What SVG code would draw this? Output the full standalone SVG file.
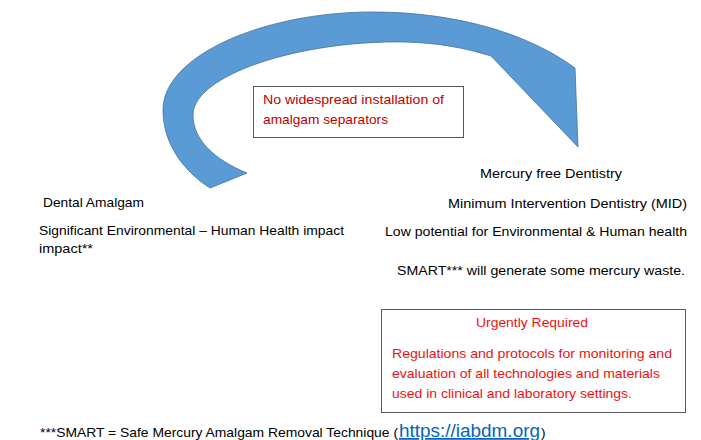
<svg xmlns="http://www.w3.org/2000/svg" width="701" height="440" viewBox="0 0 701 440">
<style>
.t{font-family:"Liberation Sans",Arial,sans-serif;font-size:13.5px;fill:#000}
.r1{fill:#c00000}
.r2{fill:#ee1111}
.box{fill:#fff;stroke:#595959;stroke-width:1}
.arrow{fill:#5b9bd5;stroke:#41719c;stroke-width:0.8}
.link{fill:#0563c1;font-size:17.5px;text-decoration:underline}
</style>
<rect width="701" height="440" fill="#fff"/>
<g id="connectors">
<path class="arrow" d="M210,188 C185,172 163,145 163,110 C163,55 265,12 372,12 C460,12 530,35 575,68 L578,147 L491,56 C465,48 440,43 405,42 C300,40 193,75 193,115 C193,140 215,160 247,173 Z"/>
</g>
<g id="node-separators">
<rect class="box" x="253.5" y="86.5" width="210" height="51"/>
<text class="t r1" x="263" y="104" textLength="181" lengthAdjust="spacingAndGlyphs">No widespread installation of</text>
<text class="t r1" x="263" y="124" textLength="125" lengthAdjust="spacingAndGlyphs">amalgam separators</text>
</g>
<g id="node-amalgam">
<text class="t" x="43" y="207" textLength="101" lengthAdjust="spacingAndGlyphs">Dental Amalgam</text>
<text class="t" x="39" y="235" textLength="305" lengthAdjust="spacingAndGlyphs">Significant Environmental – Human Health impact</text>
<text class="t" x="39" y="253" textLength="54" lengthAdjust="spacingAndGlyphs">impact**</text>
</g>
<g id="node-mercury-free">
<text class="t" x="480" y="178" textLength="142" lengthAdjust="spacingAndGlyphs">Mercury free Dentistry</text>
<text class="t" x="448" y="208" textLength="239" lengthAdjust="spacingAndGlyphs">Minimum Intervention Dentistry (MID)</text>
<text class="t" x="385" y="236" textLength="302" lengthAdjust="spacingAndGlyphs">Low potential for Environmental &amp; Human health</text>
<text class="t" x="397" y="275" textLength="288" lengthAdjust="spacingAndGlyphs">SMART*** will generate some mercury waste.</text>
</g>
<g id="node-required">
<rect class="box" x="381.5" y="309.5" width="304" height="103"/>
<text class="t r2" x="476" y="327" textLength="112" lengthAdjust="spacingAndGlyphs">Urgently Required</text>
<text class="t r2" x="392" y="358" textLength="280" lengthAdjust="spacingAndGlyphs">Regulations and protocols for monitoring and</text>
<text class="t r2" x="392" y="378" textLength="268" lengthAdjust="spacingAndGlyphs">evaluation of all technologies and materials</text>
<text class="t r2" x="392" y="398" textLength="240" lengthAdjust="spacingAndGlyphs">used in clinical and laboratory settings.</text>
</g>
<g id="node-footnote">
<text class="t" x="40" y="437" textLength="358" lengthAdjust="spacingAndGlyphs">***SMART = Safe Mercury Amalgam Removal Technique (</text>
<text class="t link" x="399" y="437" textLength="141" lengthAdjust="spacingAndGlyphs">https://iabdm.org</text>
<text class="t" x="541" y="437">)</text>
</g>
</svg>
